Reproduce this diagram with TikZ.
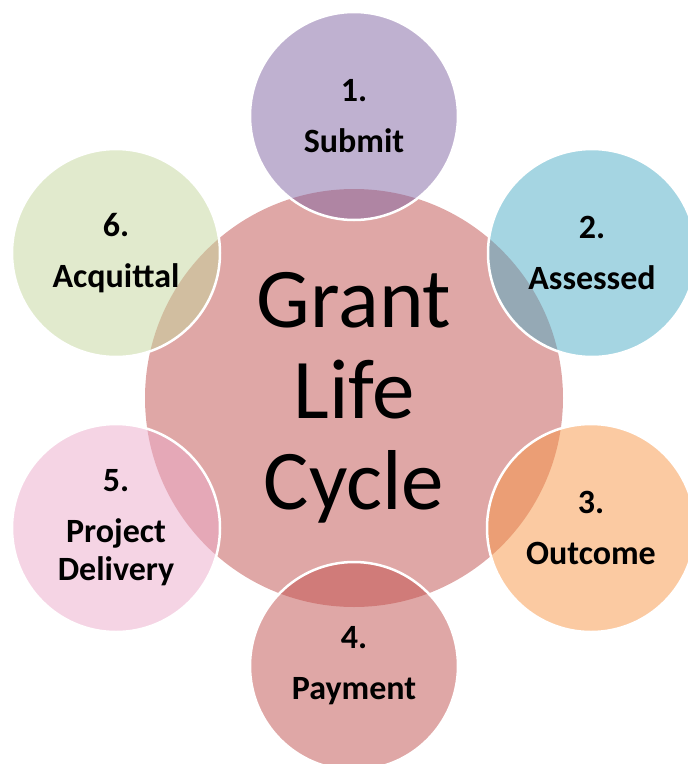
\documentclass[tikz,border=0pt]{standalone}
\usepackage{fontspec}
\setmainfont{Carlito}
\definecolor{cycred}{RGB}{192,80,77}
\definecolor{cycpurple}{RGB}{128,100,162}
\definecolor{cycblue}{RGB}{75,172,198}
\definecolor{cycorange}{RGB}{247,150,70}
\definecolor{cycpink}{RGB}{235,169,201}
\definecolor{cycgreen}{RGB}{195,214,155}
\begin{document}
\begin{tikzpicture}[x=1pt,y=-1pt,
  hub/.style={circle, fill=cycred, fill opacity=.5, text opacity=1, minimum size=418pt, inner sep=0pt, align=center, font=\fontsize{85}{91}\selectfont},
  stage/.style={circle, draw=white, line width=2.5pt, fill opacity=.5, draw opacity=1, text opacity=1, minimum size=208pt, inner sep=0pt, align=center, font=\fontsize{34}{38}\selectfont\bfseries}]
\useasboundingbox (0,0) rectangle (688,764);
\node[hub] (hub) at (354,398) {Grant\\Life\\Cycle};
\node[stage, fill=cycpurple] (submit) at (354,116) {1.\\[13pt]Submit};
\node[stage, fill=cycblue] (assessed) at (592,253) {2.\\[13pt]Assessed};
\node[stage, fill=cycorange] (outcome) at (591,528) {3.\\[13pt]Outcome};
\node[stage, fill=cycred] (payment) at (354,666) {4.\\[13pt]Payment};
\node[stage, fill=cycpink] (delivery) at (116,528) {5.\\[13pt]Project\\Delivery};
\node[stage, fill=cycgreen] (acquittal) at (116,253) {6.\\[13pt]Acquittal};
\end{tikzpicture}
\end{document}
